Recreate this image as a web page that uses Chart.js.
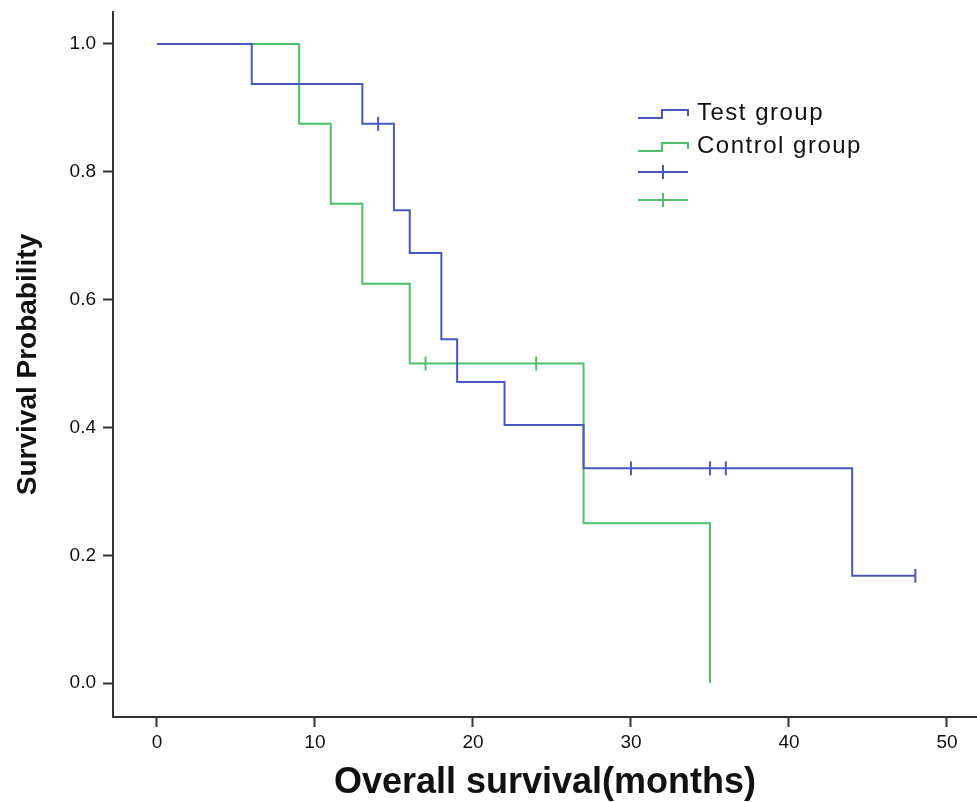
<!DOCTYPE html>
<html>
<head>
<meta charset="utf-8">
<script src="https://cdn.jsdelivr.net/npm/chart.js@4/dist/chart.umd.min.js"></script>
<style>
  html, body { margin: 0; padding: 0; background: #fff; }
  #km { display: block; }
</style>
</head>
<body>
<canvas id="km" width="977" height="802"></canvas>
<script>
// Kaplan-Meier curves (time in months, survival probability after event)
const testTimes = [0, 6, 13, 15, 16, 18, 19, 22, 27, 44, 48];
const testSurv = [1, 0.9375, 0.875, 0.740, 0.673, 0.538, 0.471, 0.404, 0.336, 0.168, 0.168];
const controlTimes = [0, 9, 11, 13, 16, 27, 35];
const controlSurv = [1, 0.875, 0.75, 0.625, 0.5, 0.25, 0];

// censored observations
const testCensorTimes = [14, 30, 35, 36, 48];
const testCensorSurv = [0.875, 0.336, 0.336, 0.336, 0.168];
const controlCensorTimes = [17, 24];
const controlCensorSurv = [0.5, 0.5];

const xTicks = [0, 10, 20, 30, 40, 50];
const yTicks = [0, 0.2, 0.4, 0.6, 0.8, 1.0];

const BLUE = '#4858bf';
const GREEN = '#4cc06a';
const AXIS = '#333';
const FONT = "'Liberation Sans', Arial, sans-serif";

const toPts = (xs, ys) => xs.map((x, i) => ({ x: x, y: ys[i] }));

// legend like the SPSS one: step icon for curves, tick icon for censored
const spssLegend = {
  id: 'spssLegend',
  afterDraw(chart) {
    const ctx = chart.ctx;
    ctx.save();
    ctx.lineWidth = 2;
    ctx.font = '24px ' + FONT;
    ctx.letterSpacing = '1.5px';
    ctx.fillStyle = '#111';
    ctx.textBaseline = 'middle';
    const rows = [
      { y: 112, color: BLUE, label: 'Test group', kind: 'step' },
      { y: 145, color: GREEN, label: 'Control group', kind: 'step' },
      { y: 172, color: BLUE, label: '', kind: 'cross' },
      { y: 200, color: GREEN, label: '', kind: 'cross' }
    ];
    rows.forEach(r => {
      ctx.strokeStyle = r.color;
      ctx.beginPath();
      if (r.kind === 'step') {
        ctx.moveTo(638, r.y + 6);
        ctx.lineTo(662, r.y + 6);
        ctx.lineTo(662, r.y - 2);
        ctx.lineTo(688, r.y - 2);
        ctx.lineTo(688, r.y + 4);
      } else {
        ctx.moveTo(638, r.y);
        ctx.lineTo(688, r.y);
        ctx.moveTo(663, r.y - 7);
        ctx.lineTo(663, r.y + 7);
      }
      ctx.stroke();
      if (r.label) ctx.fillText(r.label, 697, r.y + 1);
    });
    ctx.restore();
  }
};

new Chart(document.getElementById('km'), {
  type: 'line',
  data: {
    datasets: [
      {
        label: 'Test group',
        data: toPts(testTimes, testSurv),
        borderColor: BLUE,
        borderWidth: 2,
        stepped: 'before',
        pointRadius: 0,
        fill: false
      },
      {
        label: 'Control group',
        data: toPts(controlTimes, controlSurv),
        borderColor: GREEN,
        borderWidth: 2,
        stepped: 'before',
        pointRadius: 0,
        fill: false
      },
      {
        type: 'scatter',
        label: 'Test censored',
        data: toPts(testCensorTimes, testCensorSurv),
        borderColor: BLUE,
        backgroundColor: BLUE,
        pointStyle: 'line',
        rotation: 90,
        pointRadius: 7,
        borderWidth: 2,
        showLine: false
      },
      {
        type: 'scatter',
        label: 'Control censored',
        data: toPts(controlCensorTimes, controlCensorSurv),
        borderColor: GREEN,
        backgroundColor: GREEN,
        pointStyle: 'line',
        rotation: 90,
        pointRadius: 7,
        borderWidth: 2,
        showLine: false
      }
    ]
  },
  options: {
    responsive: false,
    animation: false,
    layout: { autoPadding: false, padding: { top: 12, right: 0, left: 0, bottom: 0 } },
    plugins: {
      legend: { display: false },
      tooltip: { enabled: false }
    },
    scales: {
      x: {
        type: 'linear',
        min: -2.78,
        max: 51.9,
        afterFit(scale) {
          scale.height = 85;
          scale.paddingLeft = 0;
          scale.paddingRight = 0;
        },
        afterBuildTicks(scale) { scale.ticks = xTicks.map(v => ({ value: v })); },
        grid: { display: true, drawOnChartArea: false, drawTicks: true, tickLength: 10, tickColor: AXIS, tickWidth: 2 },
        border: { display: true, color: AXIS, width: 2 },
        ticks: { color: '#111', padding: 4, maxRotation: 0, font: { family: FONT, size: 19 } },
        title: {
          display: true,
          text: 'Overall survival(months)',
          color: '#111',
          padding: { top: 0, bottom: 1 },
          font: { family: FONT, size: 36, weight: 'bold', lineHeight: 1 }
        }
      },
      y: {
        type: 'linear',
        min: -0.053,
        max: 1.05,
        afterFit(scale) {
          scale.width = 113;
          scale.paddingTop = 0;
          scale.paddingBottom = 0;
        },
        afterBuildTicks(scale) { scale.ticks = yTicks.map(v => ({ value: v })); },
        grid: { display: true, drawOnChartArea: false, drawTicks: true, tickLength: 10, tickColor: AXIS, tickWidth: 2 },
        border: { display: true, color: AXIS, width: 2 },
        ticks: {
          color: '#111',
          padding: 7,
          font: { family: FONT, size: 19 },
          callback: v => Number(v).toFixed(1)
        },
        title: {
          display: true,
          text: 'Survival Probability',
          color: '#111',
          padding: { top: 14, bottom: 0 },
          font: { family: FONT, size: 28, weight: 'bold', lineHeight: 1 }
        }
      }
    }
  },
  plugins: [spssLegend]
});
</script>
</body>
</html>
